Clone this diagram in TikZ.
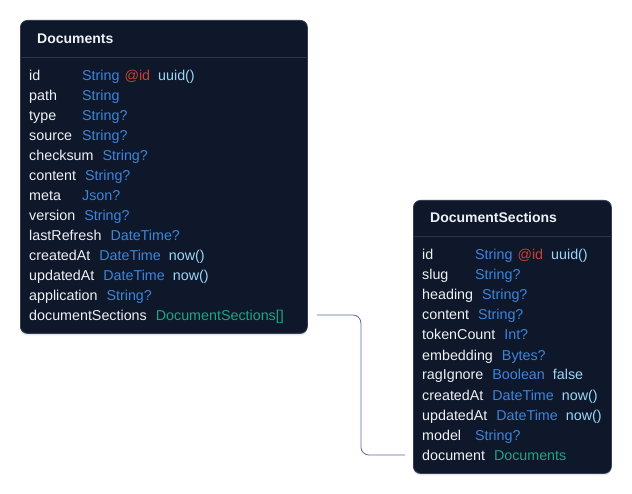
\documentclass[tikz,border=0pt]{standalone}
\usepackage{fontspec}
\setmainfont{Liberation Sans}
\usetikzlibrary{shadows,calc}
\definecolor{boxbg}{HTML}{0F172A}
\definecolor{boxline}{HTML}{353F54}
\definecolor{sepline}{HTML}{2B3548}
\definecolor{nametxt}{HTML}{EEF1F5}
\definecolor{typetxt}{HTML}{3D85DA}
\definecolor{attrtxt}{HTML}{C8412F}
\definecolor{fntxt}{HTML}{9AD7F7}
\definecolor{reltxt}{HTML}{1CA587}
\definecolor{connclr}{HTML}{5C6D9A}
\newcommand\fldname[1]{\setbox0\hbox{#1}\ifdim\wd0<44pt\hbox to 44pt{#1\hfil}\else\box0\fi\hspace{9pt}}
\newcommand\ty[1]{\textcolor{typetxt}{#1}}
\newcommand\atr[1]{\textcolor{attrtxt}{#1}}
\newcommand\fnc[1]{\textcolor{fntxt}{#1}}
\newcommand\rel[1]{\textcolor{reltxt}{#1}}
\tikzset{
  tablebox/.style={draw=boxline, line width=0.8pt, fill=boxbg, rounded corners=7pt, anchor=north west, inner sep=0pt,
    drop shadow={opacity=0.18, shadow xshift=0pt, shadow yshift=-2pt}},
  sep/.style={draw=sepline, line width=0.8pt},
  title/.style={anchor=base west, inner sep=0pt, text=nametxt, font=\fontsize{14pt}{16pt}\selectfont\bfseries},
  row/.style={anchor=base west, inner sep=0pt, text=nametxt, font=\fontsize{14.3pt}{16pt}\selectfont},
  conn/.style={draw=connclr, line width=0.8pt, rounded corners=8pt}
}
\begin{document}
\begin{tikzpicture}[x=1pt,y=-1pt]
\useasboundingbox[fill=white] (0,0) rectangle (632,494);
% Documents table
\node[tablebox, minimum width=287pt, minimum height=313pt] (docs) at (20,20) {};
\node[title] (docsT) at (37,44) {Documents};
\draw[sep] ($(docs.north west)+(0,37)$) -- ($(docs.north east)+(0,37)$);
\node[row] (d1) at (29,81) {\fldname{id}\ty{String}\hspace{5pt}\atr{@id}\hspace{8pt}\fnc{uuid()}};
\node[row] (d2) at (29,101) {\fldname{path}\ty{String}};
\node[row] (d3) at (29,121) {\fldname{type}\ty{String?}};
\node[row] (d4) at (29,141) {\fldname{source}\ty{String?}};
\node[row] (d5) at (29,161) {\fldname{checksum}\ty{String?}};
\node[row] (d6) at (29,181) {\fldname{content}\ty{String?}};
\node[row] (d7) at (29,201) {\fldname{meta}\ty{Json?}};
\node[row] (d8) at (29,221) {\fldname{version}\ty{String?}};
\node[row] (d9) at (29,241) {\fldname{lastRefresh}\ty{DateTime?}};
\node[row] (d10) at (29,261) {\fldname{createdAt}\ty{DateTime}\hspace{8pt}\fnc{now()}};
\node[row] (d11) at (29,281) {\fldname{updatedAt}\ty{DateTime}\hspace{8pt}\fnc{now()}};
\node[row] (d12) at (29,301) {\fldname{application}\ty{String?}};
\node[row] (d13) at (29,321) {\fldname{documentSections}\rel{DocumentSections[]}};
% DocumentSections table
\node[tablebox, minimum width=198pt, minimum height=273pt] (secs) at (413,200) {};
\node[title] (secsT) at (430,223) {DocumentSections};
\draw[sep] ($(secs.north west)+(0,36)$) -- ($(secs.north east)+(0,36)$);
\node[row] (s1) at (422,260) {\fldname{id}\ty{String}\hspace{5pt}\atr{@id}\hspace{8pt}\fnc{uuid()}};
\node[row] (s2) at (422,280) {\fldname{slug}\ty{String?}};
\node[row] (s3) at (422,300) {\fldname{heading}\ty{String?}};
\node[row] (s4) at (422,320) {\fldname{content}\ty{String?}};
\node[row] (s5) at (422,340) {\fldname{tokenCount}\ty{Int?}};
\node[row] (s6) at (422,360) {\fldname{embedding}\ty{Bytes?}};
\node[row] (s7) at (422,380) {\fldname{ragIgnore}\ty{Boolean}\hspace{8pt}\fnc{false}};
\node[row] (s8) at (422,400) {\fldname{createdAt}\ty{DateTime}\hspace{8pt}\fnc{now()}};
\node[row] (s9) at (422,420) {\fldname{updatedAt}\ty{DateTime}\hspace{8pt}\fnc{now()}};
\node[row] (s10) at (422,440) {\fldname{model}\ty{String?}};
\node[row] (s11) at (422,460) {\fldname{document}\rel{Documents}};
% connector
\coordinate (c1) at ($(docs.east |- d13.base)+(9,-6)$);
\coordinate (c2) at ($(secs.west |- s11.base)+(-8,-5)$);
\coordinate (cm) at ($(c1)!0.5!(c2)$);
\draw[conn] (c1) -- (c1 -| cm) -- (cm |- c2) -- (c2);
\end{tikzpicture}
\end{document}
